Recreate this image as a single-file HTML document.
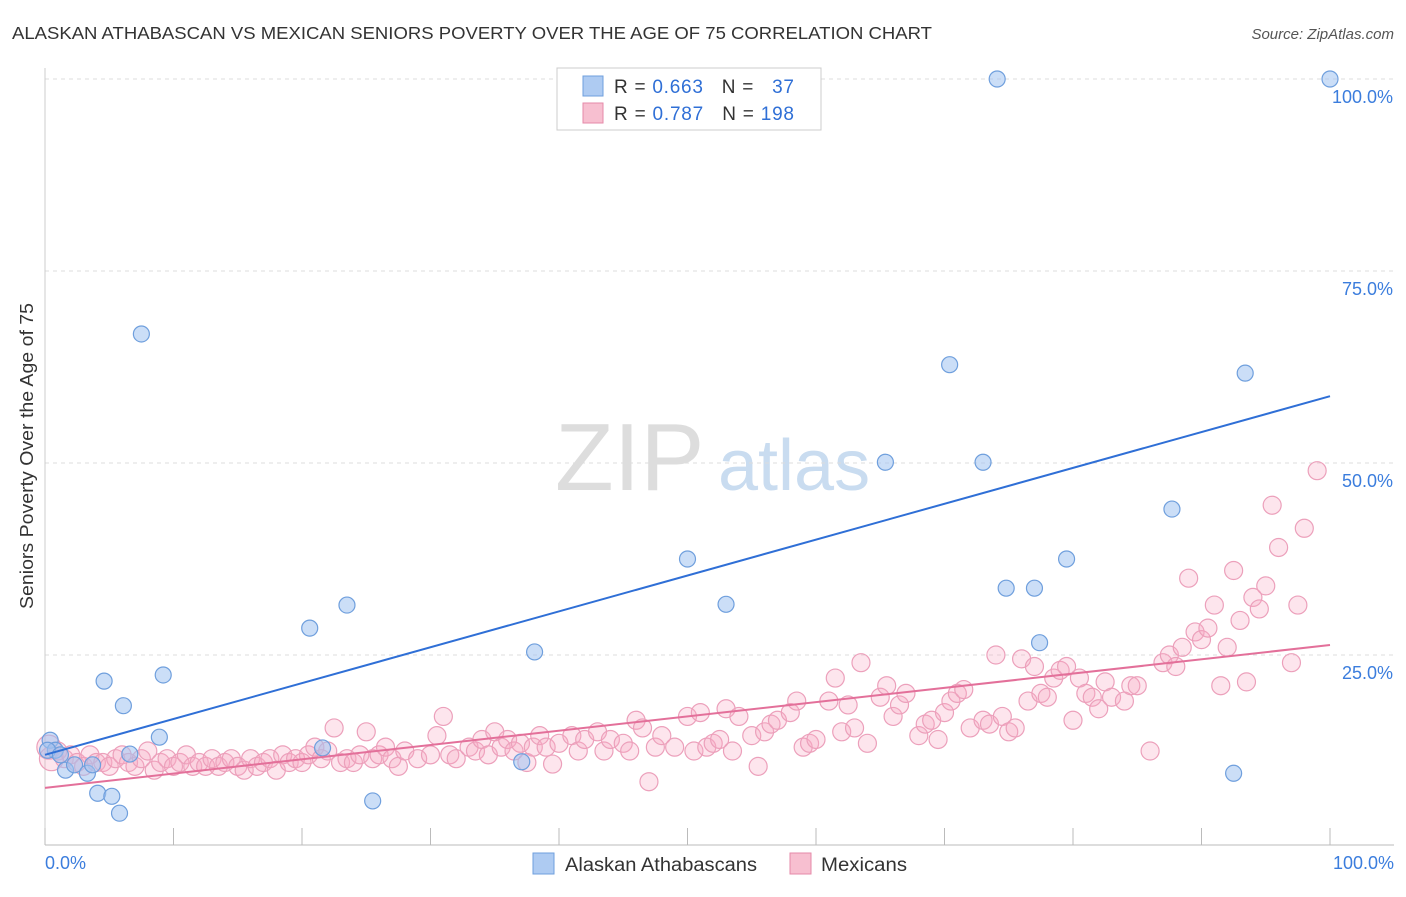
<!DOCTYPE html>
<html><head><meta charset="utf-8"><style>
body{margin:0;background:#fff;font-family:"Liberation Sans",sans-serif;}
svg text{font-family:"Liberation Sans",sans-serif;}
</style></head><body>
<svg id="chart" width="1406" height="892">
<text x="12" y="39" font-size="17.5" fill="#333" textLength="920" lengthAdjust="spacingAndGlyphs">ALASKAN ATHABASCAN VS MEXICAN SENIORS POVERTY OVER THE AGE OF 75 CORRELATION CHART</text>
<text x="1394" y="39" font-size="15" fill="#555" font-style="italic" text-anchor="end">Source: ZipAtlas.com</text>
<text x="0" y="0" transform="translate(33,456) rotate(-90)" font-size="18" fill="#333" text-anchor="middle" textLength="306" lengthAdjust="spacingAndGlyphs">Seniors Poverty Over the Age of 75</text>
<g><text x="555" y="490" font-size="96" fill="#ddd" font-family="Liberation Serif">ZIP</text><text x="718" y="490" font-size="72" fill="#c9dcf0">atlas</text></g>
<g id="grid"></g>
<g id="pts"></g>
<g>
<rect x="557" y="68" width="264" height="62" fill="#fff" stroke="#ccc"/>
<rect x="583" y="76" width="20" height="20" fill="#aecbf2" stroke="#6f9fdd"/>
<rect x="583" y="103" width="20" height="20" fill="#f7bfd0" stroke="#e58aa8"/>
<text x="614" y="93" font-size="19" fill="#333" textLength="180" lengthAdjust="spacing">R = <tspan fill="#2f6fd6">0.663</tspan>&#160;&#160;&#160;N = &#160;&#160;<tspan fill="#2f6fd6">37</tspan></text>
<text x="614" y="120" font-size="19" fill="#333" textLength="180" lengthAdjust="spacing">R = <tspan fill="#2f6fd6">0.787</tspan>&#160;&#160;&#160;N = <tspan fill="#2f6fd6">198</tspan></text>
</g>
<g>
<rect x="533" y="853" width="21" height="21" fill="#aecbf2" stroke="#6f9fdd"/>
<text x="565" y="871" font-size="19" fill="#333" textLength="192" lengthAdjust="spacingAndGlyphs">Alaskan Athabascans</text>
<rect x="790" y="853" width="21" height="21" fill="#f7bfd0" stroke="#e58aa8"/>
<text x="821" y="871" font-size="19" fill="#333" textLength="86" lengthAdjust="spacingAndGlyphs">Mexicans</text>
</g>
</svg>
<script>
const blueX=[0.4,0.8,1.6,2.3,3.3,3.7,4.1,4.6,5.2,5.8,6.1,6.6,7.5,8.9,9.2,20.6,21.6,23.5,25.5,37.1,38.1,50.0,53.0,65.4,70.4,73.0,74.1,74.8,77.0,77.4,79.5,87.7,92.5,93.4,100,0.2,1.2];
const blueY=[13.9,12.6,10.0,10.7,9.6,10.7,7.0,21.6,6.6,4.4,18.4,12.1,66.8,14.3,22.4,28.5,12.9,31.5,6.0,11.1,25.4,37.5,31.6,50.1,62.8,50.1,100,33.7,33.7,26.6,37.5,44.0,9.6,61.7,100,12.6,12.0];
const pinkXY=[[0.3,13],[0.5,11.5],[1,12.5],[1.5,11.5],[2,12],[2.5,11],[3,10.5],[3.5,12],[4,11],[4.5,11],[5,10.5],[5.5,11.5],[6,12],[6.5,11],[7,10.5],[7.5,11.5],[8,12.5],[8.5,10],[9,11],[9.5,11.5],[10,10.5],[10.5,11],[11,12],[11.5,10.5],[12,11],[12.5,10.5],[13,11.5],[13.5,10.5],[14,11],[14.5,11.5],[15,10.5],[15.5,10],[16,11.5],[16.5,10.5],[17,11],[17.5,11.5],[18,10],[18.5,12],[19,11],[19.5,11.5],[20,11],[20.5,12],[21,13],[21.5,11.5],[22,12.5],[22.5,15.5],[23,11],[23.5,11.5],[24,11],[24.5,12],[25,15],[25.5,11.5],[26,12],[26.5,13],[27,11.5],[27.5,10.5],[28,12.5],[29,11.5],[30,12],[30.5,14.5],[31,17],[31.5,12],[32,11.5],[33,13],[33.5,12.5],[34,14],[34.5,12],[35,15],[35.5,13],[36,14],[36.5,12.5],[37,13.5],[37.5,11],[38,13],[38.5,14.5],[39,13],[39.5,10.8],[40,13.5],[41,14.5],[41.5,12.5],[42,14],[43,15],[43.5,12.5],[44,14],[45,13.5],[45.5,12.5],[46,16.5],[46.5,15.5],[47,8.5],[47.5,13],[48,14.5],[49,13],[50,17],[50.5,12.5],[51,17.5],[51.5,13],[52,13.5],[52.5,14],[53,18],[53.5,12.5],[54,17],[55,14.5],[55.5,10.5],[56,15],[56.5,16],[57,16.5],[58,17.5],[58.5,19],[59,13],[59.5,13.5],[60,14],[61,19],[61.5,22],[62,15],[62.5,18.5],[63,15.5],[63.5,24],[64,13.5],[65,19.5],[65.5,21],[66,17],[66.5,18.5],[67,20],[68,14.5],[68.5,16],[69,16.5],[69.5,14],[70,17.5],[70.5,19],[71,20],[71.5,20.5],[72,15.5],[73,16.5],[73.5,16],[74,25],[74.5,17],[75,15],[75.5,15.5],[76,24.5],[76.5,19],[77,23.5],[77.5,20],[78,19.5],[78.5,22],[79,23],[79.5,23.5],[80,16.5],[80.5,22],[81,20],[81.5,19.5],[82,18],[82.5,21.5],[83,19.5],[84,19],[84.5,21],[85,21],[86,12.5],[87,24],[87.5,25],[88,23.5],[88.5,26],[89,35],[89.5,28],[90,27],[90.5,28.5],[91,31.5],[91.5,21],[92,26],[92.5,36],[93,29.5],[93.5,21.5],[94,32.5],[94.5,31],[95,34],[95.5,44.5],[96,39],[97,24],[97.5,31.5],[98,41.5],[99,49]];
const blueLine=[12.0,58.7];
const pinkLine=[7.7,26.3];
const yTicks=[25,50,75,100];
const xTickCount=11;
const NS="http://www.w3.org/2000/svg";
const sx=v=>45+v*12.85, sy=v=>847-v*7.68;
function mk(t,a,p){const e=document.createElementNS(NS,t);for(const k in a)e.setAttribute(k,a[k]);p.appendChild(e);return e;}
const grid=document.getElementById('grid'), pts=document.getElementById('pts');
yTicks.forEach(v=>{
 const l=mk('line',{x1:45,x2:1394,y1:sy(v),y2:sy(v),stroke:'#ddd','stroke-dasharray':'4,4'},grid);
 
 
 const t=mk('text',{x:1393,y:sy(v)+24,'font-size':18,fill:'#3b7ddd','text-anchor':'end'},grid);
 t.textContent=v.toFixed(1)+'%';
 
 
});
mk('line',{x1:45,x2:45,y1:68,y2:845,stroke:'#ccc'},grid);
mk('line',{x1:45,x2:1394,y1:845,y2:845,stroke:'#bbb'},grid);
for(let i=0;i<xTickCount;i++){mk('line',{x1:sx(i*10),x2:sx(i*10),y1:828,y2:845,stroke:'#bbb'},grid);}
[['0.0%',45,'start'],['100.0%',1394,'end']].forEach(([s,x,a])=>{const t=mk('text',{x:x,y:869,'font-size':18,fill:'#3b7ddd','text-anchor':a},grid);t.textContent=s;
 
 });
pinkXY.forEach(([x,y],i)=>{
 const c=mk('circle',{cx:sx(x),cy:sy(y),r:i<2?12:9,fill:'rgba(247,170,195,0.3)',stroke:'#eca0bb','stroke-width':1.2},pts);
 
 
});
blueX.forEach((x,i)=>{
 const c=mk('circle',{cx:sx(x),cy:sy(blueY[i]),r:8,fill:'rgba(160,195,240,0.55)',stroke:'#6f9fdd','stroke-width':1.2},pts);
 
 
});
const bl=mk('line',{x1:sx(0),y1:sy(blueLine[0]),x2:sx(100),y2:sy(blueLine[1]),stroke:'#2f6fd6','stroke-width':2},pts);


const pl=mk('line',{x1:sx(0),y1:sy(pinkLine[0]),x2:sx(100),y2:sy(pinkLine[1]),stroke:'#e3709a','stroke-width':2},pts);


</script>
</body></html>
